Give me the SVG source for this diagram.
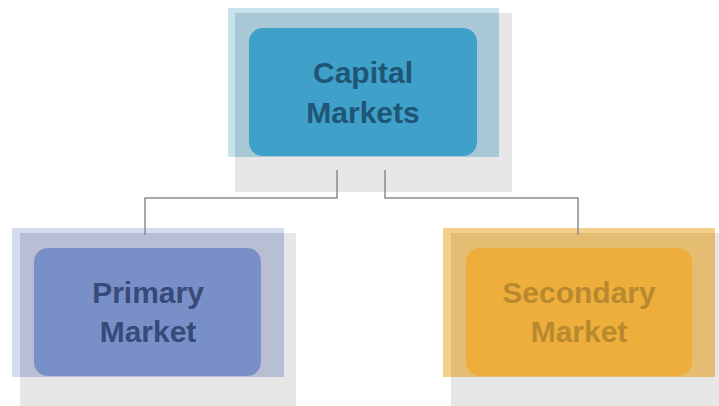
<svg xmlns="http://www.w3.org/2000/svg" width="719" height="406" viewBox="0 0 719 406">
<style>
.shadow{fill:#e7e7e7}
.lbl{font-family:"Liberation Sans",Arial,sans-serif;font-weight:bold;font-size:30px;text-anchor:middle}
.conn{fill:none;stroke:#8c8c8c;stroke-width:1.5}
</style>
<rect width="719" height="406" fill="#ffffff"/>
<g id="node-capital">
<rect class="shadow" x="235" y="13" width="277" height="179"/>
<rect x="228" y="8" width="271" height="149" fill="#c9e3ed"/>
<rect x="235" y="13" width="264" height="144" fill="#a7c8d4"/>
<rect x="249" y="28" width="228" height="128" rx="14" fill="#3fa0c9"/>
<text class="lbl" x="363" y="83" fill="#1f5575">Capital</text>
<text class="lbl" x="363" y="123" fill="#1f5575">Markets</text>
</g>
<g id="node-primary">
<rect class="shadow" x="20" y="233" width="276" height="179"/>
<rect x="12" y="228" width="272" height="149" fill="#d5dcee"/>
<rect x="20" y="233" width="264" height="144" fill="#b8bfd4"/>
<rect x="34" y="248" width="227" height="128" rx="14" fill="#788fc7"/>
<text class="lbl" x="148" y="303" fill="#374a79">Primary</text>
<text class="lbl" x="148" y="342" fill="#374a79">Market</text>
</g>
<g id="node-secondary">
<rect class="shadow" x="451" y="233" width="276" height="179"/>
<rect x="443" y="228" width="272" height="149" fill="#f4cf8a"/>
<rect x="451" y="233" width="264" height="144" fill="#e4bd73"/>
<rect x="466" y="248" width="226" height="128" rx="14" fill="#eeae3b"/>
<text class="lbl" x="579" y="303" fill="#b8892f">Secondary</text>
<text class="lbl" x="579" y="342" fill="#b8892f">Market</text>
</g>
<g id="connectors">
<polyline class="conn" points="337,170 337,198 145,198 145,235"/>
<polyline class="conn" points="385,170 385,198 578,198 578,235"/>
</g>
</svg>
